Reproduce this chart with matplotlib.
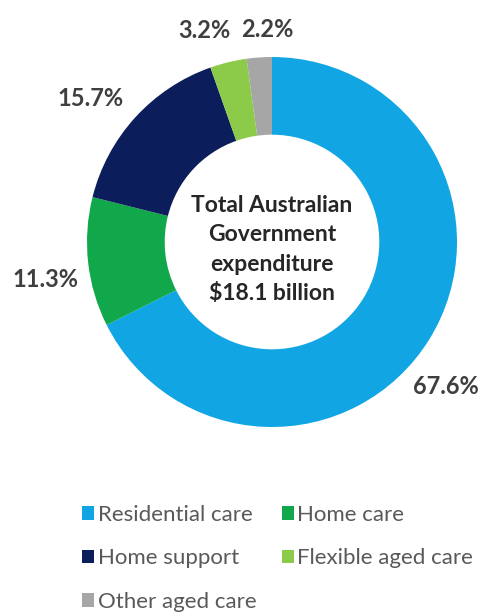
import numpy as np
import matplotlib
matplotlib.use("Agg")
import matplotlib.pyplot as plt
from matplotlib.patches import Patch

plt.rcParams['font.family'] = ['Lato', 'DejaVu Sans']

categories = ["Residential care", "Home care", "Home support",
              "Flexible aged care", "Other aged care"]
shares = [67.6, 11.3, 15.7, 3.2, 2.2]
share_labels = ["67.6%", "11.3%", "15.7%", "3.2%", "2.2%"]
colors = ["#12A5E3", "#10A84A", "#0B1E5B", "#8CCB4A", "#A6A6A6"]
centre_text = "Total Australian\nGovernment\nexpenditure\n$18.1 billion"

# label placement: radial distance (in radii) and angular nudge (deg)
label_dist = [1.22, 1.24, 1.25, 1.20, 1.15]
label_nudge = [-8, 3, 4, 4, -2.7]

W, H = 484, 612
fig = plt.figure(figsize=(W / 100, H / 100), dpi=100)

cx, cy, R = 272, 242, 185          # pixel geometry of the ring
half = 265
ax = fig.add_axes([(cx - half) / W, (H - cy - half) / H, 2 * half / W, 2 * half / H])

wedges, _ = ax.pie(shares, colors=colors, startangle=90, counterclock=False,
                   radius=1.0, wedgeprops=dict(width=0.42, edgecolor='none'))
ax.set_xlim(-half / R, half / R)
ax.set_ylim(-half / R, half / R)
ax.set_aspect('equal')
ax.axis('off')

for w, lab, d, nud in zip(wedges, share_labels, label_dist, label_nudge):
    mid = np.deg2rad((w.theta1 + w.theta2) / 2 + nud)
    ax.text(d * np.cos(mid), d * np.sin(mid), lab, ha='center', va='center',
            fontsize=17, fontweight='bold', color='#3F3F3F', clip_on=False)

ax.text(0, -0.04, centre_text, ha='center', va='center', fontsize=16.5,
        fontweight='bold', color='#262626', linespacing=1.5)

handles = [Patch(facecolor=c, edgecolor='none') for c in colors]
order = [0, 2, 4, 1, 3]
fig.legend([handles[i] for i in order], [categories[i] for i in order],
           ncol=2, loc='upper left', bbox_to_anchor=(62 / W, 1 - 485 / H),
           frameon=False, fontsize=16, handlelength=0.55, handleheight=0.55,
           handletextpad=0.15, labelspacing=1.05, columnspacing=1.15,
           labelcolor='#595959')

fig.savefig("out.png", dpi=100, facecolor='white')
